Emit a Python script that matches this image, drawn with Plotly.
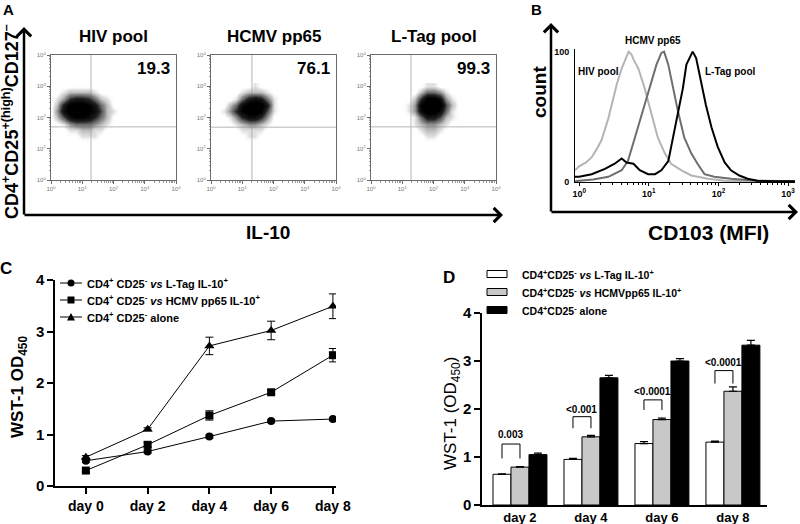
import math
import plotly.graph_objects as go

W, H = 800, 524
FONT = "Liberation Sans, Arial, sans-serif"

# ---------------- Panel A data (flow cytometry dot plots) ----------------
a_titles = ["HIV pool", "HCMV pp65", "L-Tag pool"]
a_percent = ["19.3", "76.1", "99.3"]
a_gate_x = [1.28, 1.31, 1.28]   # log10 IL-10 gate position
a_gate_y = [1.70, 1.69, 1.70]   # log10 CD127 gate position
a_grid_x = [0.0, 0.2, 0.4, 0.6, 0.8, 1.0, 1.2, 1.4, 1.6, 1.8, 2.0, 2.2, 2.4, 2.6, 2.8, 3.0]
a_grid_y = [1.2, 1.4, 1.6, 1.8, 2.0, 2.2, 2.4, 2.6, 2.8, 3.0]
density_hiv = [
    [0, 0, 0, 0, 0, 0, 0, 0, 0, 0, 0, 0, 0, 0, 0, 0],
    [0, 0, 0, 0, 0, 1, 1, 1, 0, 0, 0, 0, 0, 0, 0, 0],
    [0, 0, 0, 1, 1, 2, 2, 1, 1, 0, 0, 0, 0, 0, 0, 0],
    [0, 0, 1, 3, 4, 4, 4, 3, 2, 1, 0, 0, 0, 0, 0, 0],
    [0, 2, 5, 8, 9, 9, 8, 6, 4, 2, 0, 0, 0, 0, 0, 0],
    [0, 3, 8, 10, 10, 10, 9, 8, 5, 2, 1, 0, 0, 0, 0, 0],
    [0, 2, 7, 10, 10, 10, 9, 7, 4, 2, 0, 0, 0, 0, 0, 0],
    [0, 1, 3, 6, 7, 7, 6, 4, 2, 1, 0, 0, 0, 0, 0, 0],
    [0, 0, 1, 2, 2, 2, 2, 1, 0, 0, 0, 0, 0, 0, 0, 0],
    [0, 0, 0, 0, 0, 0, 0, 0, 0, 0, 0, 0, 0, 0, 0, 0],
]
density_hcmv = [
    [0, 0, 0, 0, 0, 0, 0, 0, 0, 0, 0, 0, 0, 0, 0, 0],
    [0, 0, 0, 0, 0, 0, 1, 1, 0, 0, 0, 0, 0, 0, 0, 0],
    [0, 0, 0, 0, 0, 1, 1, 1, 1, 0, 0, 0, 0, 0, 0, 0],
    [0, 0, 0, 0, 1, 2, 3, 3, 2, 1, 0, 0, 0, 0, 0, 0],
    [0, 0, 0, 1, 3, 6, 8, 8, 6, 3, 0, 0, 0, 0, 0, 0],
    [0, 0, 1, 3, 6, 9, 10, 10, 9, 5, 1, 0, 0, 0, 0, 0],
    [0, 0, 0, 2, 4, 8, 10, 10, 10, 7, 1, 0, 0, 0, 0, 0],
    [0, 0, 0, 0, 1, 4, 7, 8, 7, 4, 1, 0, 0, 0, 0, 0],
    [0, 0, 0, 0, 0, 1, 2, 2, 2, 1, 0, 0, 0, 0, 0, 0],
    [0, 0, 0, 0, 0, 0, 0, 1, 0, 0, 0, 0, 0, 0, 0, 0],
]
density_ltag = [
    [0, 0, 0, 0, 0, 0, 0, 0, 0, 0, 0, 0, 0, 0, 0, 0],
    [0, 0, 0, 0, 0, 0, 0, 0, 0, 1, 1, 0, 0, 0, 0, 0],
    [0, 0, 0, 0, 0, 0, 0, 0, 1, 2, 2, 1, 0, 0, 0, 0],
    [0, 0, 0, 0, 0, 0, 0, 1, 2, 3, 3, 2, 1, 0, 0, 0],
    [0, 0, 0, 0, 0, 0, 0, 1, 4, 7, 7, 5, 2, 1, 0, 0],
    [0, 0, 0, 0, 0, 0, 1, 3, 8, 10, 10, 8, 4, 1, 0, 0],
    [0, 0, 0, 0, 0, 0, 1, 3, 9, 10, 10, 10, 5, 2, 0, 0],
    [0, 0, 0, 0, 0, 0, 0, 2, 6, 10, 10, 8, 3, 1, 0, 0],
    [0, 0, 0, 0, 0, 0, 0, 0, 2, 4, 4, 3, 1, 0, 0, 0],
    [0, 0, 0, 0, 0, 0, 0, 0, 0, 1, 1, 0, 0, 0, 0, 0],
]
a_density = [density_hiv, density_hcmv, density_ltag]
decade_vals_a = [0, 1, 2, 3, 4]
decade_text_a = ["10<sup>0</sup>", "10<sup>1</sup>", "10<sup>2</sup>", "10<sup>3</sup>", "10<sup>4</sup>"]

# ---------------- Panel B data (CD103 histograms, log10 MFI vs % max) ----------------
hiv_x = [-0.06, 0.0, 0.1, 0.18, 0.25, 0.32, 0.38, 0.42, 0.48, 0.54, 0.61, 0.68, 0.71, 0.75, 0.78,
         0.85, 0.94, 1.04, 1.13, 1.23, 1.32, 1.47, 1.61, 1.85, 2.09, 2.4, 2.8, 3.1]
hiv_y = [9, 12, 15, 19, 25, 32, 42, 49, 62, 75, 87, 97, 100, 98, 94,
         87, 72, 52, 34, 22, 14, 9, 5, 2.5, 1, 0.5, 0.3, 0.3]
hcmv_x = [-0.06, 0.0, 0.2, 0.42, 0.61, 0.7, 0.8, 0.9, 0.97, 1.04, 1.11, 1.18, 1.22, 1.28, 1.35,
          1.42, 1.51, 1.61, 1.7, 1.8, 1.94, 2.18, 2.56, 3.1]
hcmv_y = [0.5, 1, 2, 4, 9, 16, 34, 52, 65, 77, 90, 99, 100, 90, 72,
          54, 34, 22, 14, 6, 4, 2.5, 1, 0.5]
ltag_x = [-0.06, 0.0, 0.18, 0.37, 0.51, 0.61, 0.68, 0.78, 0.87, 0.99, 1.09, 1.18, 1.28, 1.35, 1.42,
          1.49, 1.54, 1.59, 1.63, 1.68, 1.75, 1.82, 1.9, 1.99, 2.09, 2.18, 2.3, 2.42, 2.56, 2.8, 3.1]
ltag_y = [4, 4, 6, 10, 14, 18, 15, 14, 9, 6, 6, 9, 16, 34, 54,
          72, 90, 96, 100, 95, 77, 59, 42, 27, 15, 9, 5, 2.5, 1, 0.5, 0.5]
b_names = ["HIV pool", "HCMV pp65", "L-Tag pool"]
decade_vals_b = [0, 1, 2, 3]
decade_text_b = ["10<sup>0</sup>", "10<sup>1</sup>", "10<sup>2</sup>", "10<sup>3</sup>"]

# ---------------- Panel C data (WST-1 time course) ----------------
c_days = [0, 2, 4, 6, 8]
c_day_labels = ["day 0", "day 2", "day 4", "day 6", "day 8"]
c_ltag = [0.49, 0.67, 0.96, 1.26, 1.30]
c_ltag_err = [0.03, 0.03, 0.03, 0.03, 0.03]
c_hcmv = [0.30, 0.80, 1.37, 1.82, 2.54]
c_hcmv_err = [0.03, 0.05, 0.09, 0.04, 0.13]
c_alone = [0.56, 1.10, 2.72, 3.02, 3.49]
c_alone_err = [0.03, 0.03, 0.17, 0.18, 0.24]
c_names = ["CD4<sup>+</sup> CD25<sup>-</sup> <i>vs</i> L-Tag IL-10<sup>+</sup>",
           "CD4<sup>+</sup> CD25<sup>-</sup> <i>vs</i> HCMV pp65 IL-10<sup>+</sup>",
           "CD4<sup>+</sup> CD25<sup>-</sup> alone"]
c_symbols = ["circle", "square", "triangle-up"]

# ---------------- Panel D data (WST-1 bars) ----------------
d_pos = [0, 1, 2, 3]
d_day_labels = ["day 2", "day 4", "day 6", "day 8"]
d_ltag = [0.64, 0.95, 1.28, 1.31]
d_ltag_err = [0.01, 0.02, 0.04, 0.02]
d_hcmv = [0.79, 1.42, 1.78, 2.37]
d_hcmv_err = [0.01, 0.03, 0.03, 0.09]
d_alone = [1.05, 2.65, 3.00, 3.33]
d_alone_err = [0.03, 0.05, 0.05, 0.10]
d_names = ["CD4<sup>+</sup>CD25<sup>-</sup> <i>vs</i> L-Tag IL-10<sup>+</sup>",
           "CD4<sup>+</sup>CD25<sup>-</sup> <i>vs</i> HCMVpp65 IL-10<sup>+</sup>",
           "CD4<sup>+</sup>CD25<sup>-</sup> alone"]
d_colors = ["white", "#c8c8c8", "black"]
d_pvals = ["0.003", "<0.001", "<0.0001", "<0.0001"]
d_sig_label_y = [1.46, 2.00, 2.37, 2.97]
d_sig_top = [1.27, 1.84, 2.19, 2.80]
d_sig_bottom = [0.97, 1.60, 1.98, 2.53]

# ---------------- helpers ----------------
def px(p):
    return p / W

def py(p):
    return 1 - p / H

def dx(p0, p1):
    return [px(p0), px(p1)]

def dy(top, bottom):
    return [py(bottom), py(top)]

def ann(text, x, y, size, bold=True, angle=0, xanchor="center", yanchor="middle", color="black"):
    return dict(text=text, x=px(x), y=py(y), xref="paper", yref="paper", showarrow=False,
                font=dict(family=FONT, size=size, color=color, weight="bold" if bold else "normal"),
                textangle=angle, xanchor=xanchor, yanchor=yanchor)

def arrow(x0, y0, x1, y1, width=2.5):
    return dict(text="", x=px(x1), y=py(y1), xref="paper", yref="paper",
                ax=x0 - x1, ay=y0 - y1, showarrow=True, arrowhead=4, arrowsize=1.1,
                arrowwidth=width, arrowcolor="black")

minor_a = [n + math.log10(k) for n in range(4) for k in range(2, 10)]
minor_b = [n + math.log10(k) for n in range(3) for k in range(2, 10)]

fig = go.Figure()
annotations = []
shapes = []
layout = dict(template="none", width=W, height=H, margin=dict(l=0, r=0, t=0, b=0, pad=0),
              paper_bgcolor="white", plot_bgcolor="rgba(0,0,0,0)",
              font=dict(family=FONT, color="black"), showlegend=False)

# ---------------- Panel A ----------------
a_boxes = [(51, 176), (211, 336), (371, 496)]
cloud_cs = [[0.0, "rgba(255,255,255,0)"], [0.1, "rgba(175,175,175,0.4)"],
            [0.3, "rgba(115,115,115,0.8)"], [0.6, "rgba(35,35,35,1)"], [0.9, "rgb(0,0,0)"],
            [1.0, "rgb(0,0,0)"]]
for i, (x0, x1) in enumerate(a_boxes):
    xa = "xaxis" if i == 0 else f"xaxis{i+1}"
    ya = "yaxis" if i == 0 else f"yaxis{i+1}"
    xr = "x" if i == 0 else f"x{i+1}"
    yr = "y" if i == 0 else f"y{i+1}"
    common = dict(range=[0, 4], showline=True, mirror=True, linecolor="#6a6a6a", linewidth=1,
                  ticks="outside", ticklen=3, tickwidth=1, tickcolor="#6a6a6a",
                  tickmode="array", tickvals=decade_vals_a, ticktext=decade_text_a,
                  tickfont=dict(family=FONT, size=6, color="#777"),
                  minor=dict(tickmode="array", tickvals=minor_a, ticks="outside", ticklen=1.5,
                             tickcolor="#999", showgrid=False),
                  showgrid=False, zeroline=False, fixedrange=True, automargin=False)
    layout[xa] = dict(domain=dx(x0, x1), anchor=yr, **common)
    layout[ya] = dict(domain=dy(55, 180), anchor=xr, **common)
    fig.add_trace(go.Heatmap(x=a_grid_x, y=a_grid_y, z=a_density[i], zmin=0, zmax=10,
                             colorscale=cloud_cs, zsmooth="best", showscale=False,
                             hoverinfo="skip", xaxis=xr, yaxis=yr))
    shapes.append(dict(type="line", xref=xr, yref=yr, x0=a_gate_x[i], x1=a_gate_x[i], y0=0, y1=4,
                       line=dict(color="#b5b5b5", width=1), layer="below"))
    shapes.append(dict(type="line", xref=xr, yref=yr, x0=0, x1=4, y0=a_gate_y[i], y1=a_gate_y[i],
                       line=dict(color="#b5b5b5", width=1), layer="below"))
    annotations.append(ann(a_titles[i], (x0 + x1) / 2, 36, 17))
    annotations.append(ann(a_percent[i], x1 - 4, 69, 17, xanchor="right"))

annotations.append(ann("A", 8, 10, 15))
annotations.append(ann("CD4<sup>+</sup>CD25<sup>+(high)</sup>CD127<sup>\u2013</sup>", 10, 122, 18, angle=-90))
annotations.append(ann("IL-10", 268, 232, 19))
annotations.append(arrow(24, 216, 24, 27))
annotations.append(arrow(23, 215, 503, 215))

# ---------------- Panel B ----------------
layout["xaxis4"] = dict(domain=dx(575, 795), anchor="y4", range=[-0.06, 3.1],
                        showline=True, linecolor="black", linewidth=1,
                        ticks="outside", ticklen=3, tickcolor="black",
                        tickmode="array", tickvals=decade_vals_b, ticktext=decade_text_b,
                        tickfont=dict(family=FONT, size=9, weight="bold"),
                        minor=dict(tickmode="array", tickvals=minor_b, ticks="outside", ticklen=2,
                                   tickcolor="black"),
                        showgrid=False, zeroline=False, fixedrange=True, automargin=False)
layout["yaxis4"] = dict(domain=dy(49, 182), anchor="x4", range=[0, 102],
                        showline=True, linecolor="black", linewidth=1,
                        ticks="outside", ticklen=3, tickcolor="rgba(0,0,0,0)",
                        tickmode="array", tickvals=[0, 100], ticktext=["0", "100"],
                        tickfont=dict(family=FONT, size=9, weight="bold"),
                        showgrid=False, zeroline=False, fixedrange=True, automargin=False)
for xs, ys, col, nm in [(hiv_x, hiv_y, "#b4b4b4", b_names[0]),
                        (hcmv_x, hcmv_y, "#6e6e6e", b_names[1]),
                        (ltag_x, ltag_y, "#000000", b_names[2])]:
    fig.add_trace(go.Scatter(x=xs, y=ys, mode="lines", line=dict(color=col, width=2),
                             name=nm, showlegend=False, xaxis="x4", yaxis="y4", hoverinfo="skip"))
annotations.append(ann("HCMV pp65", 653, 41, 10))
annotations.append(ann("HIV pool", 598, 71, 10))
annotations.append(ann("L-Tag pool", 730, 71, 10))
annotations.append(ann("B", 536, 9, 15))
annotations.append(ann("count", 540, 92, 19, angle=-90))
annotations.append(ann("CD103 (MFI)", 708, 232, 21))
annotations.append(arrow(551, 213, 551, 23))
annotations.append(arrow(550, 212, 798, 212))

# ---------------- Panel C ----------------
layout["xaxis5"] = dict(domain=dx(55, 336), anchor="y5", range=[-1, 8.1],
                        showline=True, linecolor="black", linewidth=1.5,
                        ticks="outside", ticklen=6, tickwidth=1.5, tickcolor="black",
                        tickmode="array", tickvals=c_days, ticktext=c_day_labels,
                        tickfont=dict(family=FONT, size=14, weight="bold"),
                        showgrid=False, zeroline=False, fixedrange=True, automargin=False)
layout["yaxis5"] = dict(domain=dy(280, 486), anchor="x5", range=[0, 4], dtick=1,
                        showline=True, linecolor="black", linewidth=1.5,
                        ticks="outside", ticklen=6, tickwidth=1.5, tickcolor="black",
                        tickfont=dict(family=FONT, size=15, weight="bold"),
                        showgrid=False, zeroline=False, fixedrange=True, automargin=False)
for ys, es, sym, sz, nm in [(c_ltag, c_ltag_err, c_symbols[0], 8, c_names[0]),
                            (c_hcmv, c_hcmv_err, c_symbols[1], 8, c_names[1]),
                            (c_alone, c_alone_err, c_symbols[2], 9, c_names[2])]:
    fig.add_trace(go.Scatter(x=c_days, y=ys, mode="lines+markers", name=nm,
                             line=dict(color="black", width=1),
                             marker=dict(symbol=sym, size=sz, color="black"),
                             error_y=dict(type="data", array=es, color="black", thickness=1, width=4),
                             xaxis="x5", yaxis="y5"))
# legend for panel C (drawn as key shapes + text)
c_leg_rows = [283, 300, 317]
for i, row in enumerate(c_leg_rows):
    shapes.append(dict(type="line", xref="paper", yref="paper", x0=px(60), x1=px(82),
                       y0=py(row), y1=py(row), line=dict(color="black", width=1)))
    if c_symbols[i] == "circle":
        shapes.append(dict(type="circle", xref="paper", yref="paper", x0=px(67.5), x1=px(74.5),
                           y0=py(row + 3.5), y1=py(row - 3.5), fillcolor="black", line=dict(width=0)))
    elif c_symbols[i] == "square":
        shapes.append(dict(type="rect", xref="paper", yref="paper", x0=px(67.5), x1=px(74.5),
                           y0=py(row + 3.5), y1=py(row - 3.5), fillcolor="black", line=dict(width=0)))
    else:
        shapes.append(dict(type="path", xref="paper", yref="paper",
                           path=f"M{px(67)},{py(row + 3.5)} L{px(75)},{py(row + 3.5)} L{px(71)},{py(row - 4)} Z",
                           fillcolor="black", line=dict(width=0)))
    annotations.append(ann(c_names[i], 85, row, 11, xanchor="left"))
annotations.append(ann("C", 6, 268, 17))
annotations.append(ann("WST-1 OD<sub>450</sub>", 19, 387, 17, angle=-90))

# ---------------- Panel D ----------------
layout["xaxis6"] = dict(domain=dx(482, 767), anchor="y6", range=[-0.535, 3.48],
                        showline=True, linecolor="black", linewidth=1.5, ticks="",
                        tickmode="array", tickvals=d_pos, ticktext=d_day_labels,
                        tickfont=dict(family=FONT, size=13, weight="bold"),
                        showgrid=False, zeroline=False, fixedrange=True, automargin=False)
layout["yaxis6"] = dict(domain=dy(313, 505), anchor="x6", range=[0, 4], dtick=1,
                        showline=True, linecolor="black", linewidth=1.5,
                        ticks="outside", ticklen=6, tickwidth=1.5, tickcolor="black",
                        tickfont=dict(family=FONT, size=15, weight="bold"),
                        showgrid=False, zeroline=False, fixedrange=True, automargin=False)
for ys, es, col, nm in [(d_ltag, d_ltag_err, d_colors[0], d_names[0]),
                        (d_hcmv, d_hcmv_err, d_colors[1], d_names[1]),
                        (d_alone, d_alone_err, d_colors[2], d_names[2])]:
    fig.add_trace(go.Bar(x=d_pos, y=ys, name=nm, marker=dict(color=col, line=dict(color="black", width=1)),
                         error_y=dict(type="data", array=es, arrayminus=[0] * len(es), symmetric=False,
                                      color="black", thickness=1.2, width=4),
                         xaxis="x6", yaxis="y6"))
bargap = 0.24
bar_w = (1 - bargap) / 3
for i, p in enumerate(d_pos):
    xl = p - bar_w
    xr_ = p
    shapes.append(dict(type="path", xref="x6", yref="y6",
                       path=f"M{xl},{d_sig_bottom[i]} L{xl},{d_sig_top[i]} L{xr_},{d_sig_top[i]} L{xr_},{d_sig_bottom[i]}",
                       line=dict(color="black", width=1)))
    annotations.append(dict(text=d_pvals[i], x=(xl + xr_) / 2, y=d_sig_label_y[i], xref="x6", yref="y6",
                            showarrow=False, font=dict(family=FONT, size=10, weight="bold")))
# legend for panel D
d_leg_rows = [274, 292, 310]
for i, row in enumerate(d_leg_rows):
    shapes.append(dict(type="rect", xref="paper", yref="paper", x0=px(487), x1=px(507),
                       y0=py(row + 3.5), y1=py(row - 3.5), fillcolor=d_colors[i],
                       line=dict(color="black", width=1)))
    annotations.append(ann(d_names[i], 520, row, 10.5, xanchor="left"))
annotations.append(ann("D", 449, 277, 17))
annotations.append(ann("WST-1 (OD<sub>450</sub>)", 452, 413, 17, bold=False, angle=-90))

layout["barmode"] = "group"
layout["bargap"] = bargap
layout["bargroupgap"] = 0
layout["annotations"] = annotations
layout["shapes"] = shapes
fig.update_layout(**layout)

fig.write_html("out.html", config={"displayModeBar": False},
               post_script="document.body.style.margin='0';document.body.style.overflow='hidden';")
